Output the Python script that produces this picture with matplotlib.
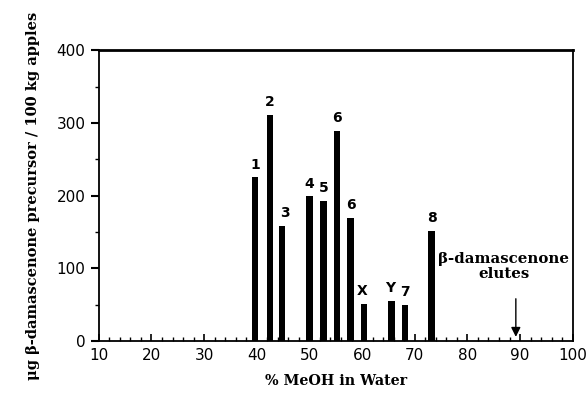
import matplotlib.pyplot as plt
from matplotlib.ticker import MultipleLocator

# fractions collected along the MeOH gradient
meoh_pct = [39.7, 42.5, 44.8, 50.0, 52.7, 55.3, 57.8, 60.4, 65.6, 68.1, 73.2]
precursor = [225, 311, 158, 199, 193, 289, 169, 51, 55, 50, 151]
peak_names = ["1", "2", "3", "4", "5", "6", "6", "X", "Y", "7", "8"]
elute_pct = 89.2

serif = ["DejaVu Serif"]

fig = plt.figure(figsize=(5.88, 3.98), dpi=100)
ax = fig.add_axes([0.168, 0.143, 0.806, 0.731])

ax.bar(meoh_pct, precursor, width=1.2, color="black")

label_dx = {"3": 0.5, "X": -0.3, "Y": -0.3}
for x, v, name in zip(meoh_pct, precursor, peak_names):
    ax.text(x + label_dx.get(name, 0), v + 8, name, ha="center", va="bottom",
            fontsize=10, fontweight="bold", family="DejaVu Sans")

ax.text(elute_pct - 2.3, 122, "\u03b2-damascenone\nelutes", ha="center", va="top",
        fontsize=10.8, fontweight="bold", family=serif, linespacing=1.1)
ax.annotate("", xy=(elute_pct, 2), xytext=(elute_pct, 62),
            arrowprops=dict(arrowstyle="-|>", color="black", lw=1.0,
                            mutation_scale=14))

ax.set_xlim(10, 100)
ax.set_ylim(0, 400)
ax.xaxis.set_major_locator(MultipleLocator(10))
ax.xaxis.set_minor_locator(MultipleLocator(2))
ax.yaxis.set_major_locator(MultipleLocator(100))
ax.yaxis.set_minor_locator(MultipleLocator(50))
ax.tick_params(axis="x", which="both", direction="in", labelsize=11, pad=5)
ax.tick_params(axis="x", which="major", length=5, width=1.2)
ax.tick_params(axis="x", which="minor", length=3, width=1.0)
ax.tick_params(axis="y", which="major", direction="out", length=6, width=1.5, labelsize=11)
ax.tick_params(axis="y", which="minor", direction="out", length=3, width=1.0)

for side in ["left", "bottom", "right"]:
    ax.spines[side].set_linewidth(1.3)
ax.spines["top"].set_linewidth(2.0)

ax.set_xlabel("% MeOH in Water", fontsize=10.3, fontweight="bold",
              family=serif, labelpad=8)
ax.set_ylabel("\u03bcg \u03b2-damascenone precursor / 100 kg apples", fontsize=10.5,
              fontweight="bold", family=serif, labelpad=12)

fig.savefig("out.png", dpi=100)
